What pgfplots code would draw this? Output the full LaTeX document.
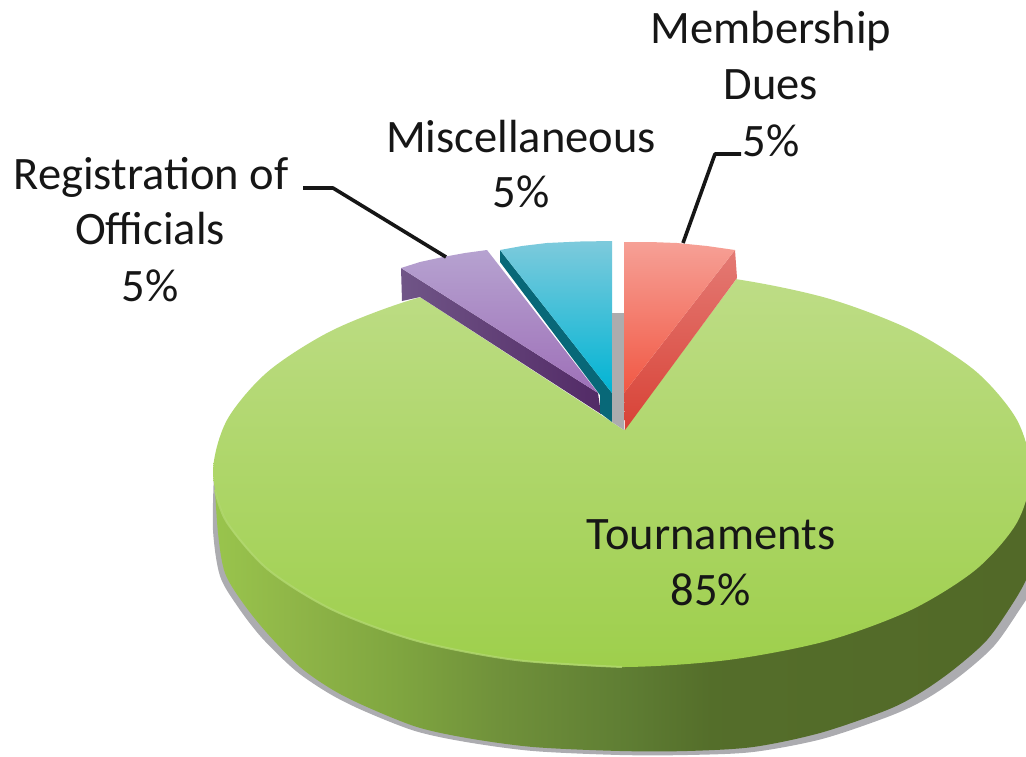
\documentclass[border=0pt]{standalone}
\usepackage{fontspec}
\setmainfont{Carlito}
\usepackage{pgfplots}
\pgfplotsset{compat=1.18}
\definecolor{tA}{RGB}{190,221,135}
\definecolor{tB}{RGB}{158,207,76}
\definecolor{shd}{RGB}{172,172,176}
\definecolor{rim}{RGB}{178,216,112}
\definecolor{gry}{RGB}{172,172,174}
\definecolor{pA}{RGB}{182,162,208}
\definecolor{pB}{RGB}{158,112,184}
\definecolor{pSA}{RGB}{112,85,135}
\definecolor{pSB}{RGB}{82,42,102}
\definecolor{cA}{RGB}{125,202,220}
\definecolor{cB}{RGB}{0,180,212}
\definecolor{cS}{RGB}{8,104,120}
\definecolor{rA}{RGB}{246,160,150}
\definecolor{rB}{RGB}{241,88,68}
\definecolor{rSA}{RGB}{228,122,116}
\definecolor{rSB}{RGB}{216,66,54}
\definecolor{txt}{RGB}{22,22,22}
\pgfdeclarehorizontalshading{sideshade}{100bp}{
  rgb(0bp)=(0.60,0.77,0.30);
  rgb(25bp)=(0.60,0.77,0.30);
  rgb(30bp)=(0.56,0.71,0.28);
  rgb(36bp)=(0.50,0.65,0.25);
  rgb(42bp)=(0.44,0.57,0.23);
  rgb(50bp)=(0.37,0.49,0.20);
  rgb(55bp)=(0.33,0.43,0.165);
  rgb(75bp)=(0.32,0.41,0.155);
  rgb(100bp)=(0.32,0.41,0.155)}
\begin{document}
\begin{tikzpicture}
\begin{axis}[
  scale only axis, width=1026pt, height=756pt,
  xmin=0, xmax=1026, ymin=0, ymax=756, y dir=reverse,
  hide axis, clip=true,
]
\path (rel axis cs:0,0) rectangle (rel axis cs:1,1);
% shadow under the disc
\addplot[fill=shd, draw=none, smooth] coordinates {
 (214,472)(213,530)(220,576)(238,607)(262,638)(296,671)(330,694)(364,711)(415,731)(466,742)(533,751)(620,755)(687,755)(753,752)(822,739)(890,716)(926,699)(960,676)(994,646)(1020,609)(1034,586)(1046,552)(1052,512)(1048,472)} --cycle;
% side wall of the disc
\addplot[shading=sideshade, draw=none, smooth] coordinates {
 (214,472)(218,533)(225,573)(243,603)(267,633)(300,667)(333,690)(367,707)(417,727)(467,738)(533,747)(620,751)(687,751)(753,747)(820,733)(887,710)(920,693)(953,670)(987,640)(1013,603)(1026,580)(1038,550)(1044,510)(1040,472)} --cycle;
% top of the disc: Tournaments 85
\addplot[top color=tA, bottom color=tB, draw=none, smooth cycle] coordinates {
 (213,472)(227,420)(268,371.5)(333,330)(417.5,298)(516,278)(622,271)(728,278)(826.5,298)(911,330)(976,371.5)(1017,420)(1031,472)(1017,522.5)(976,569.5)(911,610)(826.5,641)(728,660)(622,667)(516,660)(417.5,641)(333,610)(268,569.5)(227,522.5)};
% rim highlight
\addplot[rim, line width=2pt, smooth, opacity=0.8] coordinates {
 (215,490)(227,522.5)(268,569.5)(333,610)(417.5,641)(516,660)(622,667)};
% opening left by the three pulled-out slices
\addplot[fill=white, draw=none] coordinates {
 (420,297)(600,414)(612,422)(624,430)(737,278)(737,200)(420,200)} --cycle;
% Registration of Officials
\addplot[left color=pSA, right color=pSB, draw=none] coordinates {
 (401,268)(598,393)(601,414)(420,297)(402,301)} --cycle;
\addplot[top color=pA, bottom color=pB, draw=none] coordinates {
 (401,268)(420,262)(443,257)(465,253)(487,250)(598,393)} --cycle;
% Miscellaneous
\addplot[fill=cS, draw=none] coordinates {
 (500,250)(612,393)(612,422)(600,413)(600,395)(500,262)} --cycle;
\addplot[top color=cA, bottom color=cB, draw=none] coordinates {
 (500,250)(522,246)(547,243)(580,241.5)(612,241)(612,393)} --cycle;
% inner wall
\addplot[fill=gry, draw=none] coordinates {
 (612,313)(624,313)(624,430)(612,422)} --cycle;
% Membership Dues
\addplot[top color=rSA, bottom color=rSB, draw=none] coordinates {
 (735,250)(737,278)(625,430)(624,393)} --cycle;
\addplot[top color=rA, bottom color=rB, draw=none] coordinates {
 (624,242)(650,242)(677,243)(707,246)(735,250)(624,393)} --cycle;
% leader lines
\addplot[txt, line width=3.6pt, line join=round] coordinates {(303,188)(333,188)(446,257)};
\addplot[txt, line width=3.6pt, line join=round] coordinates {(741,154)(715,154)(683,243)};
% labels
\tikzset{lab/.style={anchor=base, text=txt, inner sep=0pt, font=\fontsize{46.5}{56}\selectfont}}
\node[lab] at (axis cs:711,549) {Tournaments};
\node[lab] at (axis cs:711,605) {85\%};
\node[lab] at (axis cs:771,43) {Membership};
\node[lab] at (axis cs:771,99) {Dues};
\node[lab] at (axis cs:771,156) {5\%};
\node[lab] at (axis cs:521,152) {Miscellaneous};
\node[lab] at (axis cs:521,207) {5\%};
\node[lab] at (axis cs:151,189) {Registration of};
\node[lab] at (axis cs:150,244) {Officials};
\node[lab] at (axis cs:150,301) {5\%};
\end{axis}
\end{tikzpicture}
\end{document}
